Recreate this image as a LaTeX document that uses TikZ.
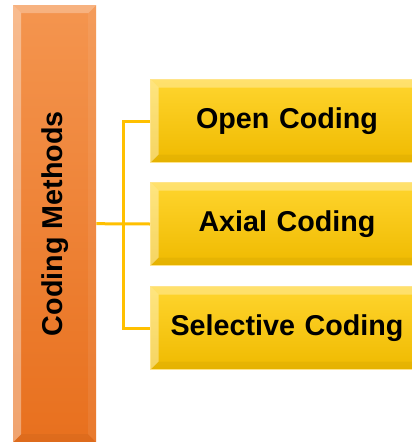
\documentclass[tikz,border=0pt]{standalone}
\usepackage{fontspec}
\setmainfont{Liberation Sans}
\definecolor{barTop}{HTML}{F4954F}
\definecolor{barBot}{HTML}{E8701E}
\definecolor{boxTop}{HTML}{FFD52E}
\definecolor{boxBot}{HTML}{EFBA00}
\definecolor{linkCol}{HTML}{FFC000}
\definecolor{rimCol}{HTML}{FFE48A}
\tikzset{
  x=1pt, y=-1pt,
  % four bevel faces inside the path picture of a node
  bevelfaces/.style={path picture={
    \def\bb{path picture bounding box}
    \fill[white,opacity=#1] (\bb.north west) -- (\bb.north east)
      -- ([shift={(-8pt,-8pt)}]\bb.north east) -- ([shift={(8pt,-8pt)}]\bb.north west) -- cycle;
    \fill[white,opacity=#1*1.3] (\bb.north west) -- ([shift={(8pt,-8pt)}]\bb.north west)
      -- ([shift={(8pt,8pt)}]\bb.south west) -- (\bb.south west) -- cycle;
    \fill[white,opacity=#1*0.25] (\bb.north east) -- ([shift={(-8pt,-8pt)}]\bb.north east)
      -- ([shift={(-8pt,8pt)}]\bb.south east) -- (\bb.south east) -- cycle;
    \fill[black,opacity=0.04] (\bb.south west) -- ([shift={(8pt,8pt)}]\bb.south west)
      -- ([shift={(-8pt,8pt)}]\bb.south east) -- (\bb.south east) -- cycle;
  }},
  barbox/.style={rectangle, anchor=north west, inner sep=0pt,
    minimum width=83pt, minimum height=437pt,
    top color=barTop, bottom color=barBot, bevelfaces=0.28},
  stepbox/.style={rectangle, anchor=north west, inner sep=0pt,
    minimum width=273pt, minimum height=83pt, text width=261pt, align=center,
    top color=boxTop, bottom color=boxBot, draw=rimCol, line width=1pt,
    bevelfaces=0.3, font=\fontsize{28.7}{32}\selectfont\bfseries},
  conn/.style={draw=linkCol, line width=3pt},
}
\begin{document}
\begin{tikzpicture}
  \useasboundingbox (0,0) rectangle (412,442);
  \clip (0,0) rectangle (412,442);
  \fill[white] (0,0) rectangle (412,442);

  % left category bar with its vertical title
  \node[barbox, label={[rotate=90, font=\fontsize{28.7}{32}\selectfont\bfseries]center:Coding Methods}]
    (methods) at (13,5) {};

  % the three coding steps
  \node[stepbox] (open)      at (150,79)  {Open Coding};
  \node[stepbox] (axial)     at (150,182) {Axial Coding};
  \node[stepbox] (selective) at (150,286) {Selective Coding};

  % tree connector
  \coordinate (spine) at (123,223.5);
  \draw[conn] (methods.east) -- (axial.west);
  \draw[conn] (open.west) -| (spine) |- (selective.west);
\end{tikzpicture}
\end{document}
